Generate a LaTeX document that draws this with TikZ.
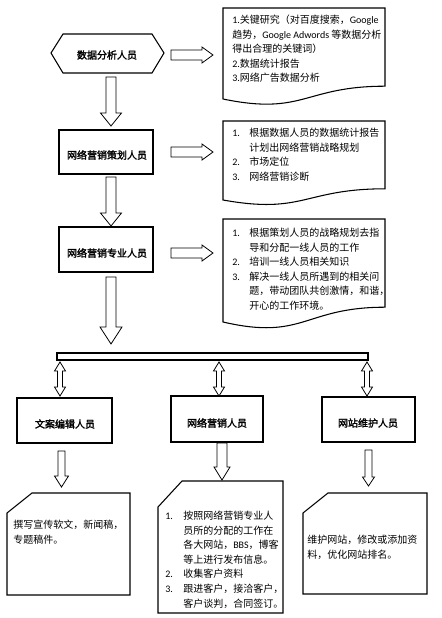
\documentclass[tikz,border=0pt]{standalone}
\usepackage{fontspec}
\setmainfont{Noto Sans CJK SC}[AutoFakeBold=2]
\newfontfamily\latf{Carlito}
\newcommand\lat[1]{{\latf #1}}
\newcommand\itm[1]{\makebox[12.75pt][l]{\lat{#1}}}
\newcommand\ind{\hspace*{12.75pt}}
\newcommand\itmb[1]{\makebox[13.5pt][l]{\lat{#1}}}
\newcommand\indb{\hspace*{13.5pt}}
\tikzset{
  outline/.style={draw=black, line width=0.8pt, fill=white},
  blockarrow/.style={draw=black, line width=0.6pt, fill=white, line join=miter},
  boxnode/.style={draw=black, line width=0.8pt, fill=white, inner sep=0pt, outer sep=0pt},
  lbl/.style={font=\fontsize{7.5pt}{9pt}\selectfont\bfseries, inner sep=0pt},
  txt/.style={font=\fontsize{7.5pt}{10.9pt}\selectfont, inner sep=0pt, align=left, anchor=north west},
  pics/downarr/.style n args={4}{code={
    \draw[blockarrow] (-#2,0) -- (-#2,#1-#4) -- (-#3,#1-#4) -- (0,#1) -- (#3,#1-#4) -- (#2,#1-#4) -- (#2,0) -- cycle;}},
  pics/rightarr/.style n args={4}{code={
    \draw[blockarrow] (0,-#2) -- (#1-#4,-#2) -- (#1-#4,-#3) -- (#1,0) -- (#1-#4,#3) -- (#1-#4,#2) -- (0,#2) -- cycle;}},
  pics/duparr/.style n args={4}{code={
    \draw[blockarrow] (0,0) -- (#3,#4) -- (#2,#4) -- (#2,#1-#4) -- (#3,#1-#4) -- (0,#1) -- (-#3,#1-#4) -- (-#2,#1-#4) -- (-#2,#4) -- (-#3,#4) -- cycle;}},
}
\begin{document}
\begin{tikzpicture}[x=0.75pt,y=-0.75pt]
\useasboundingbox (0,0) rectangle (442,618);
\fill[white] (0,0) rectangle (442,618);

% ---------- row 1 ----------
\draw[outline] (51,53) -- (63,34) -- (152,34) -- (164,53) -- (152,73) -- (63,73) -- cycle;
\node[lbl] (n1) at (107,55) {数据分析人员};
\pic at (171,55) {rightarr={42}{5}{8}{11}};
\draw[outline] (223,8) -- (385,8) -- (385,86.2) .. controls (304,86.2) and (304,115.8) .. (223,99) -- cycle;
\node[txt] (t1) at (232,15) {\lat{1.}关键研究（对百度搜索，\lat{Google}\\趋势，\lat{Google Adwords} 等数据分析\\得出合理的关键词）\\\lat{2.}数据统计报告\\\lat{3.}网络广告数据分析};
\pic at (111,77) {downarr={49}{5}{10.5}{13}};

% ---------- row 2 ----------
\node[boxnode, minimum width=70.5pt, minimum height=33pt] (b2) at (106,152) {};
\node[lbl] (n2) at (107,155) {网络营销策划人员};
\pic at (171,152) {rightarr={42}{5}{8}{11}};
\draw[outline] (223,121) -- (385,121) -- (385,188.8) .. controls (304,188.8) and (304,214.6) .. (223,200) -- cycle;
\node[txt] (t2) at (232,128) {\itm{1.}根据数据人员的数据统计报告\\\ind 计划出网络营销战略规划\\\itm{2.}市场定位\\\itm{3.}网络营销诊断};
\pic at (111,177) {downarr={49}{5}{10.5}{13}};

% ---------- row 3 ----------
\node[boxnode, minimum width=70.5pt, minimum height=33.75pt] (b3) at (106,249.5) {};
\node[lbl] (n3) at (107,253) {网络营销专业人员};
\pic at (171,253) {rightarr={42}{5}{8}{11}};
\draw[outline] (223,219) -- (385,219) -- (385,307.2) .. controls (304,307.2) and (304,340.8) .. (223,322) -- cycle;
\node[txt] (t3) at (232,228) {\itm{1.}根据策划人员的战略规划去指\\\ind 导和分配一线人员的工作\\\itm{2.}培训一线人员相关知识\\\itm{3.}解决一线人员所遇到的相关问\\\ind 题，带动团队共创激情，和谐，\\\ind 开心的工作环境。};
\pic at (111,277) {downarr={67}{5}{11}{17}};

% ---------- bar ----------
\node[boxnode, minimum width=233.25pt, minimum height=5.25pt] (bar) at (212.5,356.5) {};
\pic at (60,362) {duparr={34}{2.5}{5.5}{9}};
\pic at (219,362) {duparr={34}{2.5}{5.5}{9}};
\pic at (367,362) {duparr={34}{2.5}{5.5}{9}};

% ---------- bottom boxes ----------
\node[boxnode, minimum width=71.25pt, minimum height=33.75pt] (bA) at (64.5,420.5) {};
\node[lbl] (nA) at (65,424) {文案编辑人员};
\node[boxnode, minimum width=69pt, minimum height=34.5pt] (bB) at (217,419) {};
\node[lbl] (nB) at (217,423) {网络营销人员};
\node[boxnode, minimum width=69.75pt, minimum height=33.75pt] (bC) at (368.5,419.5) {};
\node[lbl] (nC) at (368,423) {网站维护人员};

\pic at (61.5,451) {downarr={36}{3.5}{7}{11}};
\pic at (222,443) {downarr={37}{5}{8}{13}};
\pic at (368.5,450) {downarr={36}{3.5}{6}{9}};

% ---------- cards ----------
\draw[outline] (7,513) -- (32,493) -- (130,493) -- (130,595) -- (7,595) -- cycle;
\node[txt] (tA) at (13,520) {撰写宣传软文，新闻稿，\\专题稿件。};
\draw[outline] (158,507) -- (182,481) -- (283,481) -- (283,613) -- (158,613) -- cycle;
\node[txt] (tB) at (165,511) {\itmb{1.}按照网络营销专业人\\\indb 员所的分配的工作在\\\indb 各大网站，\lat{BBS}，博客\\\indb 等上进行发布信息。\\\itmb{2.}收集客户资料\\\itmb{3.}跟进客户，接洽客户，\\\indb 客户谈判，合同签订。};
\draw[outline] (303,513) -- (328,493) -- (427,493) -- (427,594) -- (303,594) -- cycle;
\node[txt] (tC) at (307,535) {维护网站，修改或添加资\\料，优化网站排名。};
\end{tikzpicture}
\end{document}
